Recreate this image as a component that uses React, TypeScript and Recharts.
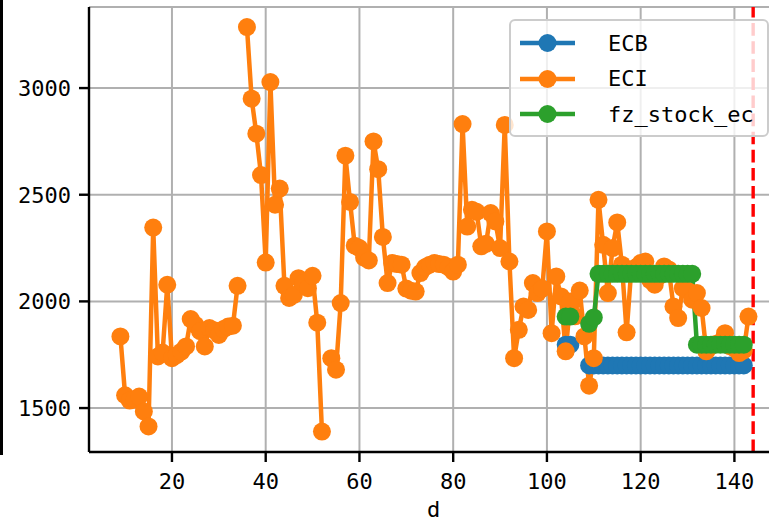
import React from 'react';
import {
  LineChart,
  Line,
  XAxis,
  YAxis,
  CartesianGrid,
  ReferenceLine,
  ReferenceArea,
} from 'recharts';

// ECI starts at d = 9, one value per day (null = missing)
const eciStart = 9;
const eci = [
  1836, 1560, 1535, 1540, 1554, 1484, 1414, 2346, 1742, 1760,
  2078, 1734, 1748, 1765, 1789, 1917, 1890, 1860, 1789, 1875,
  1865, 1843, 1870, 1882, 1886, 2073, null, 3286, 2950, 2786,
  2592, 2182, 3028, 2453, 2529, 2073, 2016, 2030, 2109, 2086,
  2062, 2120, 1900, 1390, null, 1734, 1680, 1992, 2683, 2466,
  2261, 2250, 2205, 2192, 2750, 2620, 2302, 2086, 2180, 2175,
  2172, 2060, 2050, 2046, 2133, 2160, 2172, 2180, 2175, 2172,
  2160, 2140, 2172, 2831, 2351, 2430, 2420, 2258, 2270, 2414,
  2375, 2250, 2827, 2187, 1734, 1867, 1976, 1960, 2086, 2039,
  2060, 2328, 1851, 2117, 2023, 1766, 2000, 1930, 2051, 1836,
  1605, 1734, 2476, 2265, 2039, 2250, 2370, 2172, 1855, 2150,
  2160, 2180, 2187, 2100, 2078, 2120, 2164, 2150, 1976, 1922,
  2062, 2050, 2008, 2039, 1969, 1766, 1790, 1800, 1810, 1851,
  1790, 1780, 1758, 1770, 1929,
];

// ECB and fz_stock_ec start at d = 104
const ecStart = 104;
const ecb = [
  1797, 1797, null, null, null, 1700, 1700, 1700, 1700, 1700,
  1700, 1700, 1700, 1700, 1700, 1700, 1700, 1700, 1700, 1700,
  1700, 1700, 1700, 1700, 1700, 1700, 1700, 1700, 1700, 1700,
  1700, 1700, 1700, 1700, 1700, 1700, 1700, 1700, 1700,
];
const fzStock = [
  1929, 1929, null, null, null, 1895, 1925, 2129, 2129, 2129,
  2129, 2129, 2129, 2129, 2129, 2129, 2129, 2129, 2129, 2129,
  2129, 2129, 2129, 2129, 2129, 2129, 2129, 2129, 1797, 1797,
  1797, 1797, 1797, 1797, 1797, 1797, 1797, 1797, 1797,
];

const cutoffDay = 144;
const xTicks = [20, 40, 60, 80, 100, 120, 140];
const yTicks = [1500, 2000, 2500, 3000];

const series = [
  { key: 'ECB', color: '#1f77b4' },
  { key: 'ECI', color: '#ff7f0e' },
  { key: 'fz_stock_ec', color: '#2ca02c' },
];

const rows = eci.map((v, i) => {
  const d = eciStart + i;
  const j = d - ecStart;
  return {
    d,
    ECI: v,
    ECB: j >= 0 && j < ecb.length ? ecb[j] : null,
    fz_stock_ec: j >= 0 && j < fzStock.length ? fzStock[j] : null,
  };
});

const FONT = '"DejaVu Sans Mono", monospace';
const tickStyle = { fill: '#000', fontSize: 22, fontFamily: FONT };

const Legendbox = () => (
  <div
    style={{
      position: 'absolute',
      left: 509,
      top: 19,
      width: 256,
      height: 114,
      border: '2px solid #cccccc',
      borderRadius: 6,
      background: 'rgba(255,255,255,0.8)',
      fontFamily: FONT,
      fontSize: 22,
    }}
  >
    {series.map((s, i) => (
      <div
        key={s.key}
        style={{
          position: 'absolute',
          left: 0,
          top: 4 + i * 35.5,
          height: 36,
          display: 'flex',
          alignItems: 'center',
        }}
      >
        <svg width={90} height={36}>
          <line x1={9} x2={64} y1={18} y2={18} stroke={s.color} strokeWidth={4.5} />
          <circle cx={36.5} cy={18} r={9} fill={s.color} />
        </svg>
        <span style={{ marginLeft: 7, color: '#000' }}>{s.key}</span>
      </div>
    ))}
  </div>
);

export default function App() {
  return (
    <div
      style={{
        position: 'fixed',
        left: 0,
        top: 0,
        width: 769,
        height: 522,
        overflow: 'hidden',
        background: '#fff',
      }}
    >
      <div style={{ position: 'absolute', left: 0, top: 0, width: 2.5, height: 455, background: '#000' }} />
      <LineChart
        width={800}
        height={522}
        data={rows}
        margin={{ top: 7, right: 22, bottom: 0, left: 0 }}
      >
        <CartesianGrid stroke="#b0b0b0" strokeWidth={2} />
        <XAxis
          dataKey="d"
          type="number"
          domain={[2.3, 149.3]}
          ticks={xTicks}
          interval={0}
          allowDataOverflow
          height={70}
          tickSize={10}
          tickMargin={11}
          axisLine={{ stroke: '#000', strokeWidth: 2.4 }}
          tickLine={{ stroke: '#000', strokeWidth: 2.4 }}
          tick={tickStyle}
          label={{ value: 'd', position: 'insideBottom', offset: 5, fill: '#000', fontSize: 22, fontFamily: FONT }}
        />
        <YAxis
          type="number"
          domain={[1294, 3380]}
          ticks={yTicks}
          interval={0}
          allowDataOverflow
          width={89}
          tickSize={10}
          tickMargin={8}
          axisLine={{ stroke: '#000', strokeWidth: 2.4 }}
          tickLine={{ stroke: '#000', strokeWidth: 2.4 }}
          tick={tickStyle}
        />
        {series.map((s) => (
          <Line
            key={s.key}
            dataKey={s.key}
            stroke={s.color}
            strokeWidth={4.5}
            dot={{ r: 9, fill: s.color, stroke: s.color, strokeWidth: 0 }}
            activeDot={false}
            isAnimationActive={false}
          />
        ))}
        <ReferenceLine
          x={cutoffDay}
          stroke="#ff0000"
          strokeWidth={3.4}
          strokeDasharray="12.6 5.5"
        />
        <ReferenceArea fill="none" stroke="#000" strokeWidth={2.4} ifOverflow="visible" />
      </LineChart>
      <Legendbox />
    </div>
  );
}
